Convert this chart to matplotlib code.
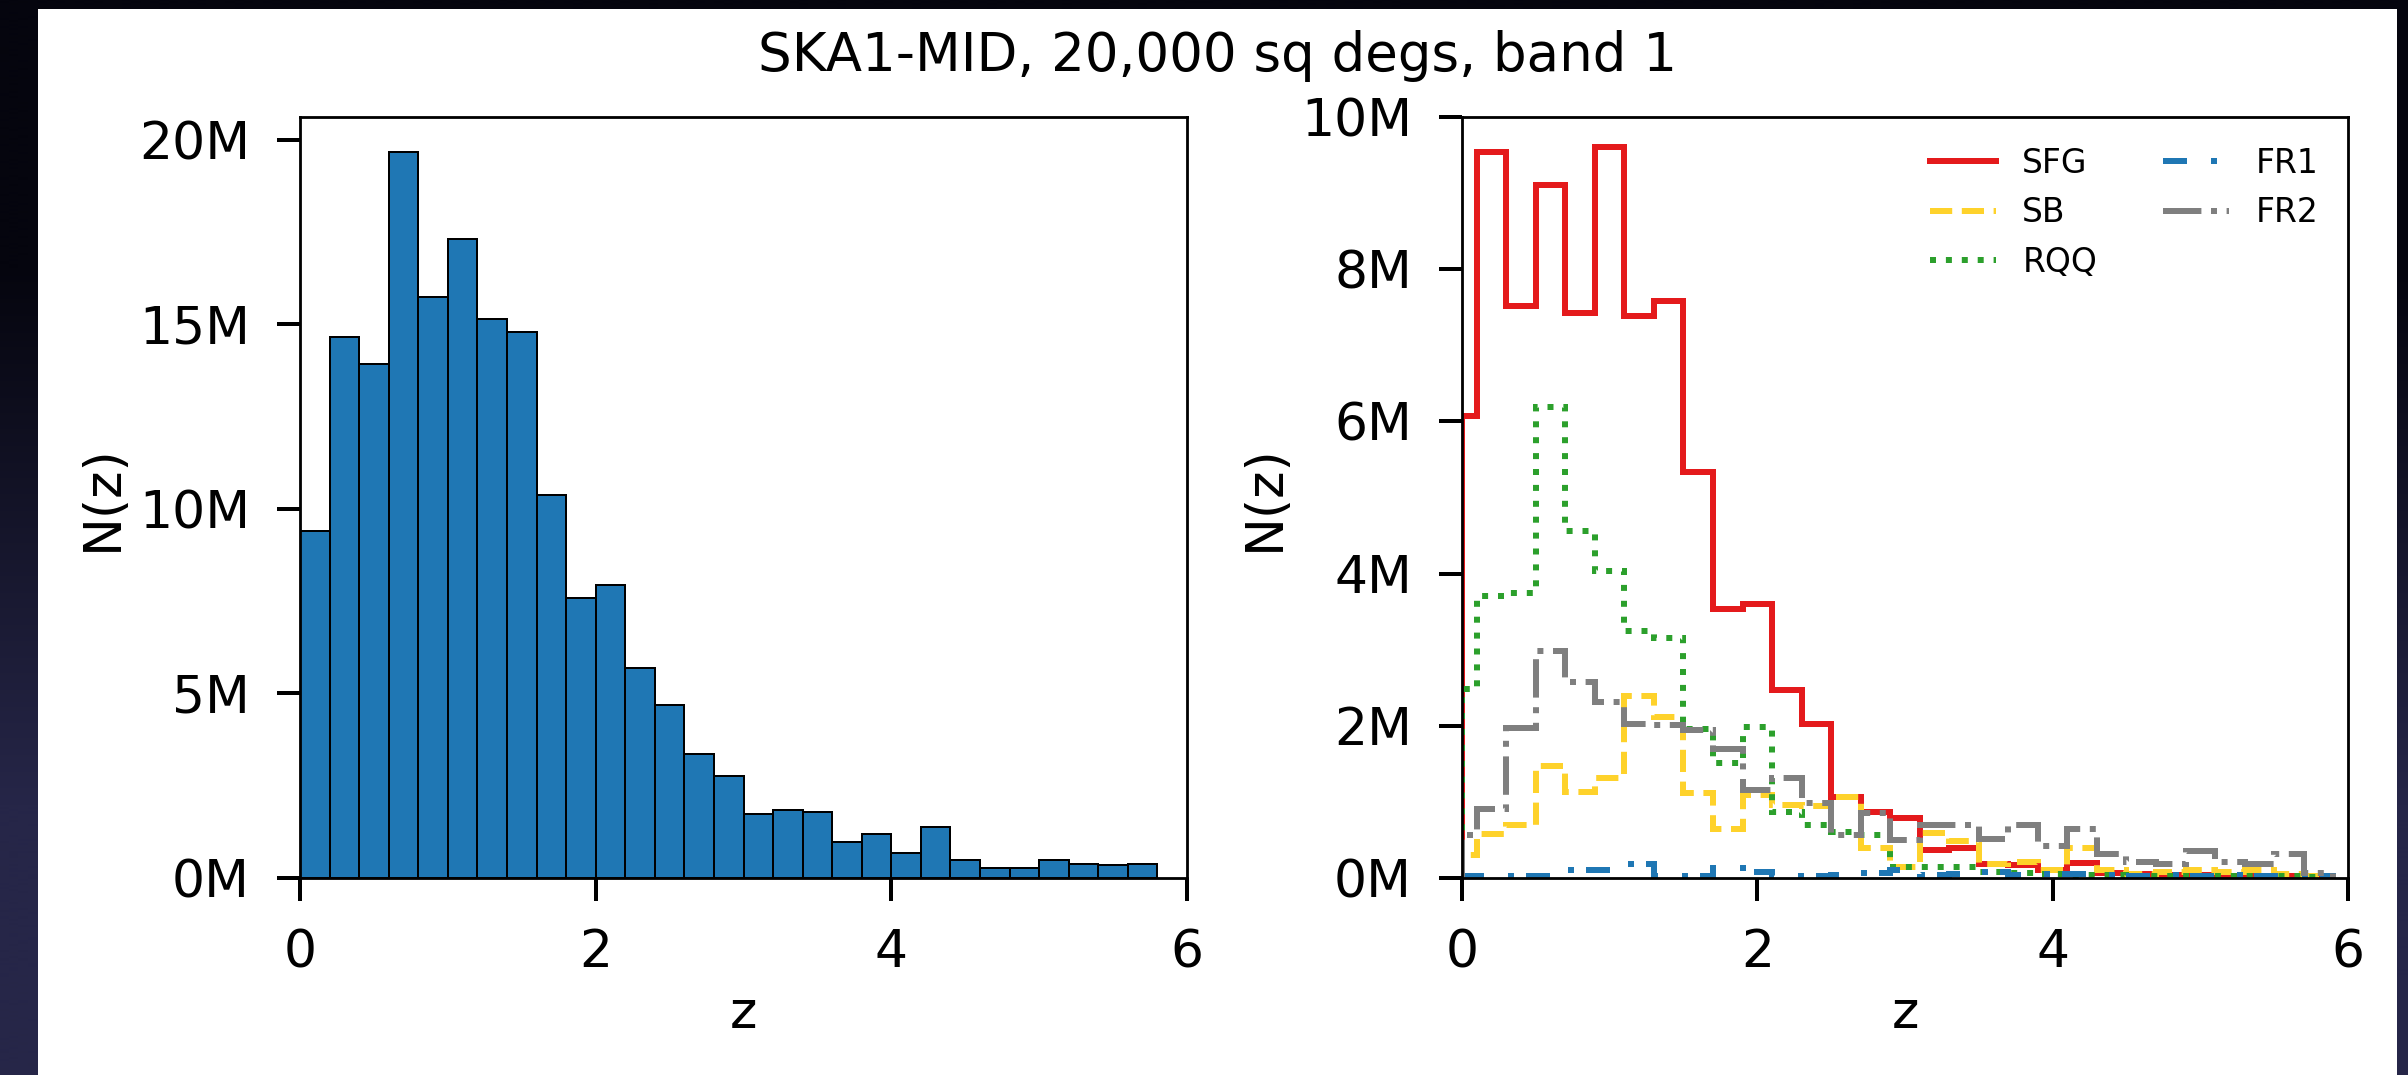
import numpy as np
import matplotlib
matplotlib.use("Agg")
import matplotlib.pyplot as plt
from matplotlib.patches import Rectangle
from matplotlib.ticker import FuncFormatter

# ===================== data (millions) =====================
# left panel: all sources, bars of width 0.2 starting at z_left
z_left = [0.0, 0.2, 0.4, 0.6, 0.8, 1.0, 1.2, 1.4, 1.6, 1.8,
          2.0, 2.2, 2.4, 2.6, 2.8, 3.0, 3.2, 3.4, 3.6, 3.8,
          4.0, 4.2, 4.4, 4.6, 4.8, 5.0, 5.2, 5.4, 5.6]
n_total = [9.39, 14.67, 13.92, 19.68, 15.73, 17.31, 15.15, 14.79, 10.39, 7.60,
           7.93, 5.69, 4.68, 3.36, 2.76, 1.73, 1.84, 1.78, 0.97, 1.19,
           0.68, 1.37, 0.48, 0.28, 0.28, 0.48, 0.39, 0.35, 0.39]

# right panel: per population, steps centred on z_pop
z_pop = [0.0, 0.2, 0.4, 0.6, 0.8, 1.0, 1.2, 1.4, 1.6, 1.8,
         2.0, 2.2, 2.4, 2.6, 2.8, 3.0, 3.2, 3.4, 3.6, 3.8,
         4.0, 4.2, 4.4, 4.6, 4.8, 5.0, 5.2, 5.4, 5.6, 5.8]
n_sfg = [6.07, 9.54, 7.52, 9.11, 7.42, 9.60, 7.38, 7.58, 5.34, 3.54,
         3.60, 2.47, 2.03, 1.07, 0.87, 0.79, 0.37, 0.39, 0.19, 0.17,
         0.10, 0.20, 0.06, 0.05, 0.04, 0.04, 0.03, 0.03, 0.02, 0.02]
n_sb = [0.30, 0.58, 0.70, 1.47, 1.13, 1.32, 2.39, 2.11, 1.12, 0.65,
        1.09, 0.96, 0.95, 1.07, 0.39, 0.15, 0.59, 0.48, 0.19, 0.21,
        0.10, 0.39, 0.10, 0.05, 0.08, 0.10, 0.08, 0.10, 0.05, 0.03]
n_rqq = [2.48, 3.70, 3.74, 6.19, 4.56, 4.03, 3.24, 3.15, 1.96, 1.51,
         1.98, 0.87, 0.70, 0.61, 0.57, 0.15, 0.14, 0.14, 0.08, 0.07,
         0.05, 0.04, 0.04, 0.03, 0.03, 0.02, 0.02, 0.02, 0.02, 0.01]
n_fr1 = [0.02, 0.02, 0.03, 0.03, 0.10, 0.10, 0.19, 0.03, 0.03, 0.13,
         0.08, 0.03, 0.03, 0.04, 0.06, 0.10, 0.04, 0.05, 0.08, 0.04,
         0.05, 0.05, 0.04, 0.03, 0.04, 0.03, 0.04, 0.03, 0.03, 0.02]
n_fr2 = [0.57, 0.91, 1.97, 2.98, 2.57, 2.31, 2.02, 2.01, 1.95, 1.69,
         1.16, 1.32, 0.98, 0.57, 0.85, 0.50, 0.70, 0.70, 0.51, 0.70,
         0.42, 0.64, 0.31, 0.21, 0.19, 0.35, 0.21, 0.19, 0.31, 0.06]

labels = ["SFG", "SB", "RQQ", "FR1", "FR2"]
TITLE = "SKA1-MID, 20,000 sq degs, band 1"
# ===============================================================================

W, H, DPI = 2408, 1075, 200
PX = 72.0 / DPI          # one pixel in points

plt.rcParams['font.family'] = 'DejaVu Sans'

fig = plt.figure(figsize=(W / DPI, H / DPI), dpi=DPI)

# dark slide background + white figure area
bg = fig.add_axes([0, 0, 1, 1], zorder=-10)
grad = np.array([[[5, 5, 14]], [[38, 38, 72]]]) / 255.0
bg.imshow(grad, aspect='auto', extent=[0, 1, 0, 1], interpolation='bilinear')
bg.axis('off')
fig.add_artist(Rectangle((38 / W, 0), (2397 - 38) / W, (H - 9) / H,
                         transform=fig.transFigure, facecolor='white',
                         edgecolor='none', zorder=-5))

fmt_m = FuncFormatter(lambda v, _: f"{v / 1e6:.0f}M")
fs_tick = 52 * PX
fs_leg = 33 * PX


def style_axes(ax):
    ax.set_xlim(0, 6)
    ax.set_xticks([0, 2, 4, 6])
    ax.yaxis.set_major_formatter(fmt_m)
    ax.tick_params(labelsize=fs_tick, length=23 * PX, width=4 * PX, pad=27 * PX)
    for s in ax.spines.values():
        s.set_linewidth(2.8 * PX)
    ax.set_xlabel("z", fontsize=fs_tick, labelpad=11 * PX)
    ax.set_ylabel("N(z)", fontsize=fs_tick, labelpad=11 * PX)


# ---- left: total histogram ----
ax1 = fig.add_axes([300 / W, 1 - 878 / H, 887 / W, 761 / H])
ax1.bar(z_left, np.array(n_total) * 1e6, width=0.2, align='edge',
        color='#1f77b4', edgecolor='black', linewidth=2 * PX)
ax1.set_ylim(0, 20.62e6)
style_axes(ax1)

# ---- right: populations ----
ax2 = fig.add_axes([1462 / W, 1 - 878 / H, 886 / W, 761 / H])
edges = np.concatenate([[0.0], np.array(z_pop) + 0.1])
series = [n_sfg, n_sb, n_rqq, n_fr1, n_fr2]
colors = ['#e41a1c', '#fed22b', '#2ca02c', '#1f77b4', '#7f7f7f']
styles = ['-', '--', ':', (0, (4, 4, 1, 2)), '-.']
lw = 6 * PX
for vals, c, ls, lab in zip(series, colors, styles, labels):
    ax2.stairs(np.array(vals) * 1e6, edges, baseline=0, color=c,
               linestyle=ls, linewidth=lw, label=lab)
ax2.set_ylim(0, 10e6)
style_axes(ax2)
ax2.legend(ncol=2, frameon=False, fontsize=fs_leg, loc='upper right')

fig.text(1217 / W, 1 - 71 / H, TITLE, ha='center', va='baseline',
         fontsize=53 * PX)

fig.savefig("out.png", dpi=DPI)
